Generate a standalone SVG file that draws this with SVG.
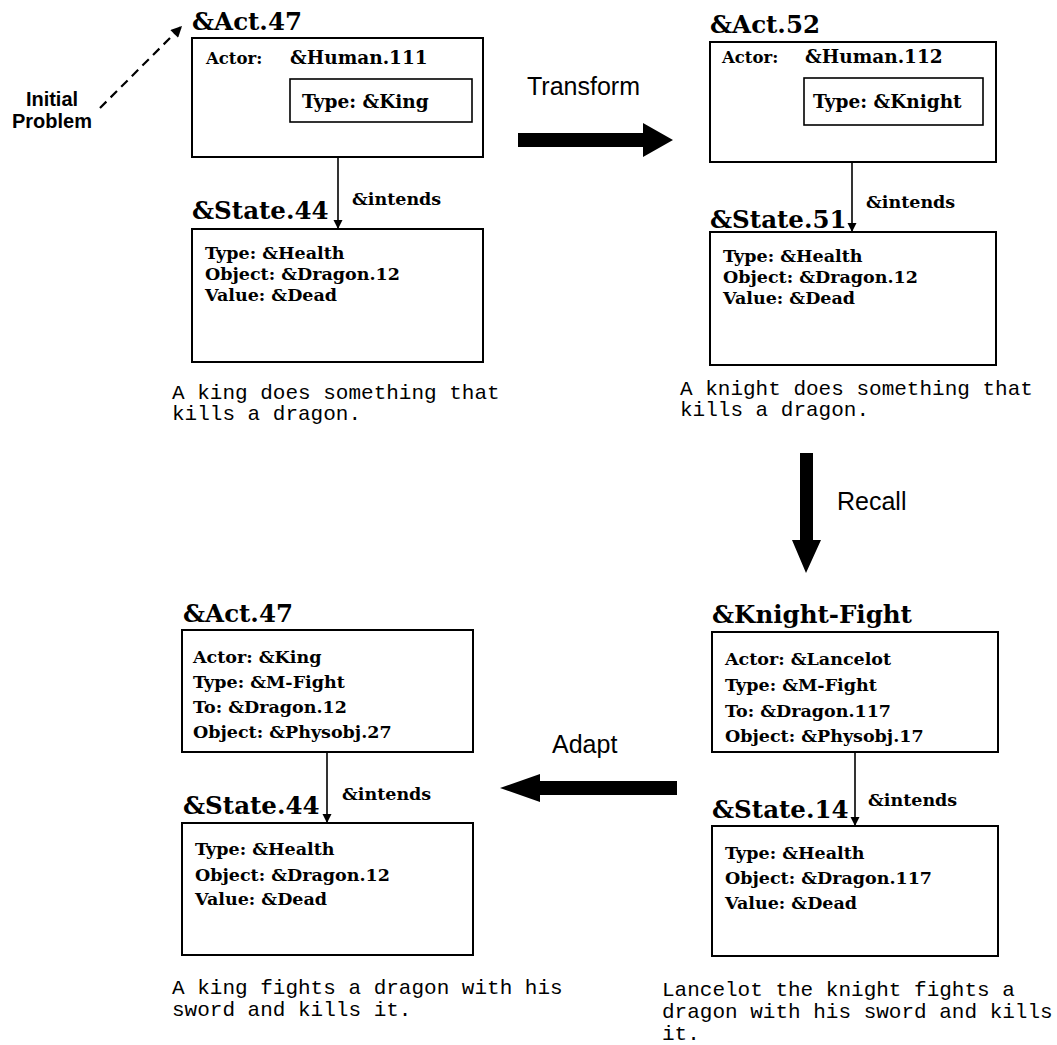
<svg xmlns="http://www.w3.org/2000/svg" width="1057" height="1045" viewBox="0 0 1057 1045">
  <style>
    .box { fill: #fff; stroke: #000; stroke-width: 2; }
    .inner { fill: none; stroke: #000; stroke-width: 1.6; }
    .title { font-family: "DejaVu Serif", "Liberation Serif", serif; font-weight: bold; font-size: 24.5px; fill: #000; }
    .slot { font-family: "DejaVu Serif", "Liberation Serif", serif; font-weight: bold; font-size: 17.5px; fill: #000; }
    .head { font-family: "DejaVu Serif", "Liberation Serif", serif; font-weight: bold; font-size: 18.5px; fill: #000; }
    .small { font-family: "DejaVu Serif", "Liberation Serif", serif; font-weight: bold; font-size: 16.5px; fill: #000; }
    .rel { font-family: "DejaVu Serif", "Liberation Serif", serif; font-weight: bold; font-size: 17.5px; fill: #000; }
    .caption { font-family: "Liberation Mono", "Courier New", monospace; font-size: 21px; fill: #000; }
    .op { font-family: "Liberation Sans", Arial, sans-serif; font-size: 25px; fill: #000; }
    .note { font-family: "Liberation Sans", Arial, sans-serif; font-weight: bold; font-size: 20px; fill: #000; }
    .link { stroke: #000; stroke-width: 1.6; fill: none; }
    .dash { stroke: #000; stroke-width: 2.2; fill: none; stroke-dasharray: 9 6; }
    .bigarrow { fill: #000; stroke: none; }
  </style>
  <defs>
    <marker id="tip" viewBox="0 0 10 10" refX="10" refY="5" markerWidth="9" markerHeight="11" markerUnits="userSpaceOnUse" orient="auto">
      <path d="M0,0 L10,5 L0,10 Z" fill="#000"/>
    </marker>
    <marker id="tipDash" viewBox="0 0 10 10" refX="10" refY="5" markerWidth="13" markerHeight="11" markerUnits="userSpaceOnUse" orient="auto">
      <path d="M0,0 L10,5 L0,10 Z" fill="#000"/>
    </marker>
  </defs>

  <!-- Initial problem: Act.47 with its intended state -->
  <g id="act47-top">
    <text class="title" x="192" y="30">&amp;Act.47</text>
    <rect class="box" x="192" y="38" width="291" height="119"/>
    <text class="small" x="206" y="64">Actor:</text>
    <text class="head" x="290" y="64">&amp;Human.111</text>
    <rect class="inner" x="290" y="79" width="182" height="43"/>
    <text class="head" x="302" y="108">Type: &amp;King</text>
  </g>
  <g id="state44-top">
    <text class="title" x="192" y="219">&amp;State.44</text>
    <rect class="box" x="192" y="229" width="291" height="133"/>
    <text class="slot" x="205" y="259">Type: &amp;Health</text>
    <text class="slot" x="205" y="280">Object: &amp;Dragon.12</text>
    <text class="slot" x="205" y="301">Value: &amp;Dead</text>
  </g>
  <g id="caption-top-left">
    <text class="caption" x="172" y="399">A king does something that</text>
    <text class="caption" x="172" y="420">kills a dragon.</text>
  </g>

  <!-- Transformed problem: Act.52 -->
  <g id="act52">
    <text class="title" x="710" y="33">&amp;Act.52</text>
    <rect class="box" x="710" y="42" width="286" height="120"/>
    <text class="small" x="722" y="63">Actor:</text>
    <text class="head" x="805" y="63">&amp;Human.112</text>
    <rect class="inner" x="804" y="78" width="179" height="47"/>
    <text class="head" x="813" y="108">Type: &amp;Knight</text>
  </g>
  <g id="state51">
    <text class="title" x="710" y="228">&amp;State.51</text>
    <rect class="box" x="710" y="232" width="286" height="133"/>
    <text class="slot" x="723" y="262">Type: &amp;Health</text>
    <text class="slot" x="723" y="283">Object: &amp;Dragon.12</text>
    <text class="slot" x="723" y="304">Value: &amp;Dead</text>
  </g>
  <g id="caption-top-right">
    <text class="caption" x="680" y="395">A knight does something that</text>
    <text class="caption" x="680" y="416">kills a dragon.</text>
  </g>

  <!-- Recalled case: Knight-Fight -->
  <g id="knight-fight">
    <text class="title" x="712" y="623">&amp;Knight-Fight</text>
    <rect class="box" x="712" y="632" width="286" height="120"/>
    <text class="slot" x="725" y="665">Actor: &amp;Lancelot</text>
    <text class="slot" x="725" y="691">Type: &amp;M-Fight</text>
    <text class="slot" x="725" y="717">To: &amp;Dragon.117</text>
    <text class="slot" x="725" y="742">Object: &amp;Physobj.17</text>
  </g>
  <g id="state14">
    <text class="title" x="712" y="818">&amp;State.14</text>
    <rect class="box" x="712" y="826" width="286" height="130"/>
    <text class="slot" x="725" y="859">Type: &amp;Health</text>
    <text class="slot" x="725" y="884">Object: &amp;Dragon.117</text>
    <text class="slot" x="725" y="909">Value: &amp;Dead</text>
  </g>
  <g id="caption-bottom-right">
    <text class="caption" x="662" y="996">Lancelot the knight fights a</text>
    <text class="caption" x="662" y="1018">dragon with his sword and kills</text>
    <text class="caption" x="662" y="1040">it.</text>
  </g>

  <!-- Adapted solution: Act.47 -->
  <g id="act47-bottom">
    <text class="title" x="183" y="622">&amp;Act.47</text>
    <rect class="box" x="182" y="630" width="291" height="122"/>
    <text class="slot" x="193" y="663">Actor: &amp;King</text>
    <text class="slot" x="193" y="688">Type: &amp;M-Fight</text>
    <text class="slot" x="193" y="713">To: &amp;Dragon.12</text>
    <text class="slot" x="193" y="738">Object: &amp;Physobj.27</text>
  </g>
  <g id="state44-bottom">
    <text class="title" x="183" y="814">&amp;State.44</text>
    <rect class="box" x="182" y="823" width="291" height="132"/>
    <text class="slot" x="195" y="855">Type: &amp;Health</text>
    <text class="slot" x="195" y="881">Object: &amp;Dragon.12</text>
    <text class="slot" x="195" y="905">Value: &amp;Dead</text>
  </g>
  <g id="caption-bottom-left">
    <text class="caption" x="172" y="994">A king fights a dragon with his</text>
    <text class="caption" x="172" y="1016">sword and kills it.</text>
  </g>

  <!-- Label for the starting point -->
  <g id="initial-problem">
    <text class="note" x="52" y="106" text-anchor="middle">Initial</text>
    <text class="note" x="52" y="128" text-anchor="middle">Problem</text>
  </g>

  <!-- Connectors: intends links, process arrows and labels -->
  <g id="connectors">
    <line class="dash" x1="100" y1="108" x2="182" y2="26" marker-end="url(#tipDash)"/>

    <line class="link" x1="338" y1="157" x2="338" y2="229" marker-end="url(#tip)"/>
    <text class="rel" x="352" y="205">&amp;intends</text>

    <line class="link" x1="852" y1="162" x2="852" y2="232" marker-end="url(#tip)"/>
    <text class="rel" x="866" y="208">&amp;intends</text>

    <line class="link" x1="855" y1="752" x2="855" y2="826" marker-end="url(#tip)"/>
    <text class="rel" x="868" y="806">&amp;intends</text>

    <line class="link" x1="327" y1="752" x2="327" y2="823" marker-end="url(#tip)"/>
    <text class="rel" x="342" y="800">&amp;intends</text>

    <!-- Transform: left to right -->
    <polygon class="bigarrow" points="518,133 643,133 643,123 673,140 643,157 643,147 518,147"/>
    <text class="op" x="527" y="95">Transform</text>

    <!-- Recall: downward -->
    <polygon class="bigarrow" points="800,453 813,453 813,540 821,540 806,573 792,540 800,540"/>
    <text class="op" x="837" y="510">Recall</text>

    <!-- Adapt: right to left -->
    <polygon class="bigarrow" points="677,781 540,781 540,774 500,788 540,802 540,795 677,795"/>
    <text class="op" x="552" y="753">Adapt</text>
  </g>
</svg>
